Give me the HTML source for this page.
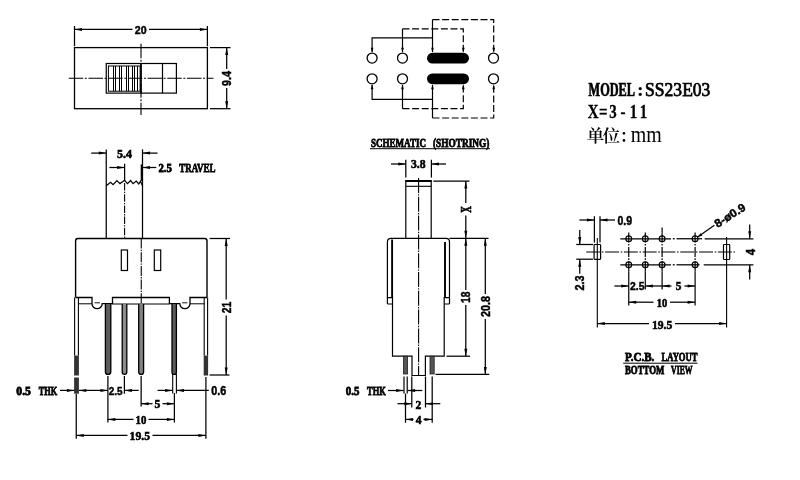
<!DOCTYPE html>
<html lang="zh">
<head>
<meta charset="utf-8">
<title>SS23E03 slide switch drawing</title>
<style>
html,body{margin:0;padding:0;background:#fff;}
body{width:800px;height:480px;overflow:hidden;}
svg{display:block;will-change:transform;}
svg text{fill:#000;}
</style>
</head>
<body>
<svg width="800" height="480" viewBox="0 0 800 480">
<rect x="0" y="0" width="800" height="480" fill="#fff" stroke="none"/>
<g stroke="#000" fill="none">
<!-- top view -->
<rect x="74.50" y="47.60" width="132.90" height="61.10" stroke-width="1.3" fill="none" rx="0"/>
<line x1="74.50" y1="26.00" x2="74.50" y2="46.20" stroke-width="1.25"/>
<line x1="207.40" y1="26.00" x2="207.40" y2="46.20" stroke-width="1.25"/>
<line x1="74.50" y1="29.40" x2="132.50" y2="29.40" stroke-width="1.25"/>
<line x1="149.00" y1="29.40" x2="207.40" y2="29.40" stroke-width="1.25"/>
<polygon points="74.50,29.40 82.00,27.90 82.00,30.90" fill="#000" stroke="none"/>
<polygon points="207.40,29.40 199.90,27.90 199.90,30.90" fill="#000" stroke="none"/>
<text x="140.70" y="33.85" font-family='"Liberation Sans", sans-serif' font-size="11.6" font-weight="bold" text-anchor="middle" stroke="#000" stroke-width="0.45" textLength="11.80" lengthAdjust="spacingAndGlyphs">20</text>
<line x1="141.00" y1="43.75" x2="141.00" y2="115.00" stroke-width="1.1" stroke-dasharray="14.5 1.6 2 1.6"/>
<line x1="68.75" y1="78.30" x2="213.50" y2="78.30" stroke-width="1.1" stroke-dasharray="14.5 1.6 2 1.6"/>
<rect x="106.25" y="63.50" width="70.15" height="29.60" stroke-width="1.2" fill="none" rx="0"/>
<line x1="162.50" y1="63.50" x2="162.50" y2="93.10" stroke-width="1.2"/>
<line x1="141.00" y1="63.50" x2="141.00" y2="93.10" stroke-width="1.6"/>
<rect x="108.40" y="66.00" width="31.70" height="25.20" stroke-width="1.0" fill="none" rx="0"/>
<line x1="113.50" y1="66.00" x2="113.50" y2="91.20" stroke-width="1.0"/>
<line x1="115.50" y1="66.00" x2="115.50" y2="91.20" stroke-width="1.0"/>
<line x1="119.50" y1="66.00" x2="119.50" y2="91.20" stroke-width="1.0"/>
<line x1="121.50" y1="66.00" x2="121.50" y2="91.20" stroke-width="1.0"/>
<line x1="126.50" y1="66.00" x2="126.50" y2="91.20" stroke-width="1.0"/>
<line x1="128.50" y1="66.00" x2="128.50" y2="91.20" stroke-width="1.0"/>
<line x1="132.50" y1="66.00" x2="132.50" y2="91.20" stroke-width="1.0"/>
<line x1="134.50" y1="66.00" x2="134.50" y2="91.20" stroke-width="1.0"/>
<line x1="137.50" y1="66.00" x2="137.50" y2="91.20" stroke-width="1.0"/>
<line x1="210.00" y1="47.60" x2="230.50" y2="47.60" stroke-width="1.25"/>
<line x1="210.00" y1="108.70" x2="230.50" y2="108.70" stroke-width="1.25"/>
<line x1="226.70" y1="47.60" x2="226.70" y2="69.00" stroke-width="1.25"/>
<line x1="226.70" y1="88.00" x2="226.70" y2="108.70" stroke-width="1.25"/>
<polygon points="226.70,47.60 225.20,55.10 228.20,55.10" fill="#000" stroke="none"/>
<polygon points="226.70,108.70 225.20,101.20 228.20,101.20" fill="#000" stroke="none"/>
<text transform="translate(226.80,78.50) rotate(-90)" x="0" y="4.44" font-family='"Liberation Sans", sans-serif' font-size="12.4" font-weight="bold" text-anchor="middle" stroke="#000" stroke-width="0.45" textLength="15.00" lengthAdjust="spacingAndGlyphs">9.4</text>
<!-- front view -->
<line x1="106.25" y1="149.40" x2="106.25" y2="238.40" stroke-width="1.25"/>
<line x1="142.50" y1="149.40" x2="142.50" y2="238.40" stroke-width="1.25"/>
<line x1="141.60" y1="164.40" x2="141.60" y2="181.00" stroke-width="1.8"/>
<line x1="124.60" y1="163.75" x2="124.60" y2="181.00" stroke-width="1.25"/>
<line x1="124.60" y1="183.00" x2="124.60" y2="238.40" stroke-width="1.1" stroke-dasharray="7.5 1.2 1.3 1.2"/>
<line x1="91.25" y1="153.10" x2="106.25" y2="153.10" stroke-width="1.25"/>
<polygon points="106.25,153.10 98.75,151.60 98.75,154.60" fill="#000" stroke="none"/>
<line x1="157.50" y1="153.10" x2="142.50" y2="153.10" stroke-width="1.25"/>
<polygon points="142.50,153.10 150.00,151.60 150.00,154.60" fill="#000" stroke="none"/>
<text x="124.40" y="158.00" font-family='"Liberation Serif", serif' font-size="13" font-weight="bold" text-anchor="middle" stroke="#000" stroke-width="0.6" textLength="15.00" lengthAdjust="spacingAndGlyphs">5.4</text>
<line x1="109.40" y1="167.50" x2="124.60" y2="167.50" stroke-width="1.25"/>
<polygon points="124.60,167.50 117.10,166.00 117.10,169.00" fill="#000" stroke="none"/>
<line x1="156.25" y1="167.50" x2="142.50" y2="167.50" stroke-width="1.25"/>
<polygon points="142.50,167.50 150.00,166.00 150.00,169.00" fill="#000" stroke="none"/>
<text y="172.04" font-family='"Liberation Serif", serif' font-size="12.8" font-weight="bold" stroke="#000" stroke-width="0.8"><tspan x="158.40" textLength="13.50" lengthAdjust="spacingAndGlyphs">2.5</tspan> <tspan x="179.20" textLength="36.20" lengthAdjust="spacingAndGlyphs">TRAVEL</tspan></text>
<path d="M106.25,185.80 L110.60,182.20 L113.10,184.60 L116.90,180.50 L120.00,183.60 L124.60,180.30 L127.50,183.60 L130.60,180.50 L133.10,183.60 L136.25,181.00 L138.75,184.00 L140.40,181.20 L142.50,185.80" stroke-width="1.2" fill="none"/>
<path d="M75.6,297.5 L75.6,241 Q75.6,238.5 78,238.5 L204.6,238.5 Q207,238.5 207,241 L207,297.5" stroke-width="1.4" fill="none"/>
<rect x="121.30" y="250.00" width="6.20" height="20.50" stroke-width="1.2" fill="none" rx="0"/>
<rect x="154.30" y="250.00" width="6.40" height="20.50" stroke-width="1.2" fill="none" rx="0"/>
<line x1="141.25" y1="238.50" x2="141.25" y2="374.00" stroke-width="1.1" stroke-dasharray="10 1.2 1.3 1.2"/>
<path d="M75.6,297.5 L92,297.5 L92,303.6 A5.1,5.1 0 0 0 102.2,303.6 L112.5,303.6 L112.5,297.5 L169.4,297.5 L169.4,303.6 L179.8,303.6 A5.1,5.1 0 0 0 190,303.6 L190,297.5 L207,297.5" stroke-width="1.3" fill="none"/>
<line x1="78.50" y1="303.80" x2="92.00" y2="303.80" stroke-width="1.0"/>
<line x1="112.50" y1="304.00" x2="169.40" y2="304.00" stroke-width="1.0"/>
<line x1="190.00" y1="303.80" x2="204.40" y2="303.80" stroke-width="1.0"/>
<line x1="94.50" y1="302.80" x2="100.00" y2="302.80" stroke-width="0.9"/>
<line x1="182.00" y1="302.80" x2="187.50" y2="302.80" stroke-width="0.9"/>
<line x1="74.60" y1="297.50" x2="74.60" y2="355.50" stroke-width="1.1"/>
<line x1="78.40" y1="297.50" x2="78.40" y2="355.50" stroke-width="1.1"/>
<rect x="74.10" y="355.5" width="4.80" height="20" fill="#333" stroke="none"/>
<line x1="204.20" y1="297.50" x2="204.20" y2="355.50" stroke-width="1.1"/>
<line x1="207.60" y1="297.50" x2="207.60" y2="355.50" stroke-width="1.1"/>
<rect x="203.70" y="355.5" width="4.40" height="20" fill="#333" stroke="none"/>
<rect x="74.1" y="377.5" width="4.8" height="16.2" fill="#333" stroke="none"/>
<path d="M105.40,304 L105.40,371.70 A2.70,2.70 0 0 0 110.80,371.70 L110.80,304" stroke-width="1.3" fill="#5c5c5c"/>
<path d="M122.20,304 L122.20,372.10 A2.30,2.30 0 0 0 126.80,372.10 L126.80,304" stroke-width="1.3" fill="#8c8c8c"/>
<path d="M138.70,304 L138.70,371.95 A2.45,2.45 0 0 0 143.60,371.95 L143.60,304" stroke-width="1.3" fill="#808080"/>
<path d="M172.00,304 L172.00,372.20 A2.20,2.20 0 0 0 176.40,372.20 L176.40,304" stroke-width="1.3" fill="#5c5c5c"/>
<line x1="172.70" y1="374.00" x2="172.70" y2="393.60" stroke-width="1.1"/>
<line x1="176.40" y1="374.00" x2="176.40" y2="393.60" stroke-width="1.1"/>
<line x1="76.25" y1="394.00" x2="76.25" y2="438.75" stroke-width="1.25"/>
<line x1="107.90" y1="376.00" x2="107.90" y2="422.50" stroke-width="1.25"/>
<line x1="124.40" y1="376.00" x2="124.40" y2="393.75" stroke-width="1.25"/>
<line x1="141.15" y1="376.00" x2="141.15" y2="406.50" stroke-width="1.25"/>
<line x1="174.40" y1="393.00" x2="174.40" y2="422.50" stroke-width="1.25"/>
<line x1="205.90" y1="377.00" x2="205.90" y2="438.75" stroke-width="1.25"/>
<line x1="209.60" y1="238.50" x2="230.00" y2="238.50" stroke-width="1.25"/>
<line x1="209.60" y1="375.00" x2="229.50" y2="375.00" stroke-width="1.25"/>
<line x1="226.20" y1="238.50" x2="226.20" y2="299.50" stroke-width="1.25"/>
<line x1="226.20" y1="315.50" x2="226.20" y2="375.00" stroke-width="1.25"/>
<polygon points="226.20,238.50 224.70,246.00 227.70,246.00" fill="#000" stroke="none"/>
<polygon points="226.20,375.00 224.70,367.50 227.70,367.50" fill="#000" stroke="none"/>
<text transform="translate(226.30,307.50) rotate(-90)" x="0" y="4.44" font-family='"Liberation Sans", sans-serif' font-size="12.4" font-weight="bold" text-anchor="middle" stroke="#000" stroke-width="0.45" textLength="11.60" lengthAdjust="spacingAndGlyphs">21</text>
<line x1="60.00" y1="390.40" x2="74.40" y2="390.40" stroke-width="1.25"/>
<polygon points="74.40,390.40 66.90,388.90 66.90,391.90" fill="#000" stroke="none"/>
<line x1="78.80" y1="390.40" x2="107.90" y2="390.40" stroke-width="1.25"/>
<polygon points="78.80,390.40 86.30,388.90 86.30,391.90" fill="#000" stroke="none"/>
<polygon points="107.90,390.40 100.40,388.90 100.40,391.90" fill="#000" stroke="none"/>
<text y="394.50" font-family='"Liberation Serif", serif' font-size="12.4" font-weight="bold" stroke="#000" stroke-width="0.8"><tspan x="16.30" textLength="14.60" lengthAdjust="spacingAndGlyphs">0.5</tspan> <tspan x="38.70" textLength="18.40" lengthAdjust="spacingAndGlyphs">THK</tspan></text>
<text x="115.70" y="394.55" font-family='"Liberation Sans", sans-serif' font-size="11.6" font-weight="bold" text-anchor="middle" stroke="#000" stroke-width="0.45" textLength="13.80" lengthAdjust="spacingAndGlyphs">2.5</text>
<line x1="124.40" y1="390.40" x2="138.70" y2="390.40" stroke-width="1.25"/>
<polygon points="124.40,390.40 131.90,388.90 131.90,391.90" fill="#000" stroke="none"/>
<line x1="157.60" y1="390.40" x2="172.60" y2="390.40" stroke-width="1.25"/>
<polygon points="172.60,390.40 165.10,388.90 165.10,391.90" fill="#000" stroke="none"/>
<line x1="176.50" y1="390.40" x2="208.80" y2="390.40" stroke-width="1.25"/>
<polygon points="176.50,390.40 184.00,388.90 184.00,391.90" fill="#000" stroke="none"/>
<text x="218.70" y="394.76" font-family='"Liberation Sans", sans-serif' font-size="11.9" font-weight="bold" text-anchor="middle" stroke="#000" stroke-width="0.45" textLength="15.00" lengthAdjust="spacingAndGlyphs">0.6</text>
<line x1="141.15" y1="403.70" x2="152.50" y2="403.70" stroke-width="1.25"/>
<line x1="162.50" y1="403.70" x2="174.40" y2="403.70" stroke-width="1.25"/>
<polygon points="141.15,403.70 148.65,402.20 148.65,405.20" fill="#000" stroke="none"/>
<polygon points="174.40,403.70 166.90,402.20 166.90,405.20" fill="#000" stroke="none"/>
<text x="157.50" y="408.10" font-family='"Liberation Serif", serif' font-size="13" font-weight="bold" text-anchor="middle" stroke="#000" stroke-width="0.6" textLength="5.80" lengthAdjust="spacingAndGlyphs">5</text>
<line x1="107.90" y1="419.40" x2="133.50" y2="419.40" stroke-width="1.25"/>
<line x1="148.50" y1="419.40" x2="174.40" y2="419.40" stroke-width="1.25"/>
<polygon points="107.90,419.40 115.40,417.90 115.40,420.90" fill="#000" stroke="none"/>
<polygon points="174.40,419.40 166.90,417.90 166.90,420.90" fill="#000" stroke="none"/>
<text x="141.00" y="423.60" font-family='"Liberation Serif", serif' font-size="13" font-weight="bold" text-anchor="middle" stroke="#000" stroke-width="0.6" textLength="10.80" lengthAdjust="spacingAndGlyphs">10</text>
<line x1="76.25" y1="435.40" x2="127.50" y2="435.40" stroke-width="1.25"/>
<line x1="152.50" y1="435.40" x2="205.90" y2="435.40" stroke-width="1.25"/>
<polygon points="76.25,435.40 83.75,433.90 83.75,436.90" fill="#000" stroke="none"/>
<polygon points="205.90,435.40 198.40,433.90 198.40,436.90" fill="#000" stroke="none"/>
<text x="139.80" y="439.90" font-family='"Liberation Serif", serif' font-size="13" font-weight="bold" text-anchor="middle" stroke="#000" stroke-width="0.6" textLength="20.40" lengthAdjust="spacingAndGlyphs">19.5</text>
<!-- schematic -->
<circle cx="372.1" cy="58.1" r="5" stroke-width="1.3" fill="none"/>
<circle cx="372.1" cy="78.8" r="5" stroke-width="1.3" fill="none"/>
<circle cx="402.5" cy="58.1" r="5" stroke-width="1.3" fill="none"/>
<circle cx="402.5" cy="78.8" r="5" stroke-width="1.3" fill="none"/>
<circle cx="493.5" cy="58.1" r="5" stroke-width="1.3" fill="none"/>
<circle cx="493.5" cy="78.8" r="5" stroke-width="1.3" fill="none"/>
<rect x="427" y="52.8" width="42" height="10.8" rx="5.4" fill="#000" stroke="none"/>
<rect x="427" y="73.4" width="42" height="10.8" rx="5.4" fill="#000" stroke="none"/>
<path d="M372.1,52 L372.1,37.8 L432.5,37.8 L432.5,52" stroke-width="1.2" fill="none"/>
<path d="M402.5,52 L402.5,28.8" stroke-width="1.2" fill="none"/>
<path d="M402.5,28.8 L463.3,28.8 L463.3,52" stroke-width="1.2" fill="none" stroke-dasharray="7 2.6"/>
<path d="M432.5,37.8 L432.5,19.6" stroke-width="1.2" fill="none"/>
<path d="M432.5,19.6 L493.7,19.6 L493.7,52" stroke-width="1.2" fill="none" stroke-dasharray="7 2.6"/>
<polygon points="372.10,52.60 370.75,47.80 373.45,47.80" fill="#000" stroke="none"/>
<polygon points="402.50,52.60 401.15,47.80 403.85,47.80" fill="#000" stroke="none"/>
<polygon points="432.50,52.60 431.15,47.80 433.85,47.80" fill="#000" stroke="none"/>
<polygon points="463.30,52.60 461.95,47.80 464.65,47.80" fill="#000" stroke="none"/>
<polygon points="493.70,52.60 492.35,47.80 495.05,47.80" fill="#000" stroke="none"/>
<path d="M372.1,85 L372.1,99.3 L432.5,99.3 L432.5,85" stroke-width="1.2" fill="none"/>
<path d="M402.5,85 L402.5,108.6" stroke-width="1.2" fill="none"/>
<path d="M402.5,108.6 L463.3,108.6 L463.3,85" stroke-width="1.2" fill="none" stroke-dasharray="7 2.6"/>
<path d="M432.5,99.3 L432.5,118" stroke-width="1.2" fill="none"/>
<path d="M432.5,118 L493.7,118 L493.7,85" stroke-width="1.2" fill="none" stroke-dasharray="7 2.6"/>
<polygon points="372.10,84.40 370.75,89.20 373.45,89.20" fill="#000" stroke="none"/>
<polygon points="402.50,84.40 401.15,89.20 403.85,89.20" fill="#000" stroke="none"/>
<polygon points="432.50,84.40 431.15,89.20 433.85,89.20" fill="#000" stroke="none"/>
<polygon points="463.30,84.40 461.95,89.20 464.65,89.20" fill="#000" stroke="none"/>
<polygon points="493.70,84.40 492.35,89.20 495.05,89.20" fill="#000" stroke="none"/>
<text y="146.70" font-family='"Liberation Serif", serif' font-size="12.4" font-weight="bold" stroke="#000" stroke-width="0.8"><tspan x="371.00" textLength="55.00" lengthAdjust="spacingAndGlyphs">SCHEMATIC</tspan> <tspan x="433.00" textLength="56.40" lengthAdjust="spacingAndGlyphs">(SHOTRING)</tspan></text>
<line x1="370.00" y1="148.70" x2="490.00" y2="148.70" stroke-width="1.0"/>
<!-- side view -->
<line x1="405.80" y1="159.75" x2="405.80" y2="177.50" stroke-width="1.25"/>
<line x1="431.40" y1="159.75" x2="431.40" y2="177.50" stroke-width="1.25"/>
<line x1="391.00" y1="164.00" x2="405.80" y2="164.00" stroke-width="1.25"/>
<polygon points="405.80,164.00 398.30,162.50 398.30,165.50" fill="#000" stroke="none"/>
<line x1="446.00" y1="164.00" x2="431.40" y2="164.00" stroke-width="1.25"/>
<polygon points="431.40,164.00 438.90,162.50 438.90,165.50" fill="#000" stroke="none"/>
<text x="418.30" y="168.40" font-family='"Liberation Serif", serif' font-size="13" font-weight="bold" text-anchor="middle" stroke="#000" stroke-width="0.6" textLength="14.60" lengthAdjust="spacingAndGlyphs">3.8</text>
<line x1="405.80" y1="181.00" x2="431.40" y2="181.00" stroke-width="2.0"/>
<line x1="405.80" y1="186.30" x2="431.40" y2="186.30" stroke-width="1.1"/>
<line x1="405.80" y1="180.00" x2="405.80" y2="238.30" stroke-width="1.2"/>
<line x1="431.20" y1="180.00" x2="431.20" y2="238.30" stroke-width="1.2"/>
<line x1="418.60" y1="178.00" x2="418.60" y2="375.00" stroke-width="1.1" stroke-dasharray="15 1.2 1.4 1.2"/>
<path d="M387.4,304 L387.4,242 Q387.4,238.3 391,238.3 L446,238.3 Q449.5,238.3 449.5,242 L449.5,304" stroke-width="1.2" fill="none"/>
<line x1="392.10" y1="239.50" x2="392.10" y2="297.60" stroke-width="1.9"/>
<line x1="445.00" y1="242.00" x2="445.00" y2="297.60" stroke-width="1.9"/>
<path d="M387.4,297.6 L392.6,297.6 M387.4,304 L392.6,304" stroke-width="1.1" fill="none"/>
<path d="M444.2,297.6 L449.5,297.6 M444.2,304 L449.5,304" stroke-width="1.1" fill="none"/>
<path d="M392.5,297 L392.5,356.2 L412,356.2 L412,375.5 L425.4,375.5 L425.4,356.2 L444.2,356.2 L444.2,297" stroke-width="1.2" fill="none"/>
<rect x="403.4" y="356.2" width="4.2" height="17.8" fill="#555" stroke="#222" stroke-width="0.8"/>
<rect x="430" y="356.2" width="4.2" height="17.8" fill="#555" stroke="#222" stroke-width="0.8"/>
<line x1="433.30" y1="181.00" x2="469.50" y2="181.00" stroke-width="1.25"/>
<line x1="465.80" y1="181.00" x2="465.80" y2="203.00" stroke-width="1.25"/>
<line x1="465.80" y1="215.50" x2="465.80" y2="238.30" stroke-width="1.25"/>
<polygon points="465.80,181.00 464.30,188.50 467.30,188.50" fill="#000" stroke="none"/>
<polygon points="465.80,238.30 464.30,230.80 467.30,230.80" fill="#000" stroke="none"/>
<text transform="translate(466.00,209.40) rotate(-90)" x="0" y="4.50" font-family='"Liberation Serif", serif' font-size="13.6" font-weight="bold" text-anchor="middle" stroke="#000" stroke-width="0.6" textLength="6.60" lengthAdjust="spacingAndGlyphs">X</text>
<line x1="449.50" y1="238.30" x2="488.50" y2="238.30" stroke-width="1.25"/>
<line x1="446.50" y1="356.20" x2="470.00" y2="356.20" stroke-width="1.25"/>
<line x1="465.80" y1="238.30" x2="465.80" y2="290.00" stroke-width="1.25"/>
<line x1="465.80" y1="305.00" x2="465.80" y2="356.20" stroke-width="1.25"/>
<polygon points="465.80,238.30 464.30,245.80 467.30,245.80" fill="#000" stroke="none"/>
<polygon points="465.80,356.20 464.30,348.70 467.30,348.70" fill="#000" stroke="none"/>
<text transform="translate(466.00,297.20) rotate(-90)" x="0" y="4.47" font-family='"Liberation Sans", sans-serif' font-size="12.5" font-weight="bold" text-anchor="middle" stroke="#000" stroke-width="0.45" textLength="11.40" lengthAdjust="spacingAndGlyphs">18</text>
<line x1="435.50" y1="374.40" x2="489.30" y2="374.40" stroke-width="1.25"/>
<line x1="485.30" y1="238.30" x2="485.30" y2="294.00" stroke-width="1.25"/>
<line x1="485.30" y1="319.00" x2="485.30" y2="374.40" stroke-width="1.25"/>
<polygon points="485.30,238.30 483.80,245.80 486.80,245.80" fill="#000" stroke="none"/>
<polygon points="485.30,374.40 483.80,366.90 486.80,366.90" fill="#000" stroke="none"/>
<text transform="translate(485.20,306.60) rotate(-90)" x="0" y="4.47" font-family='"Liberation Sans", sans-serif' font-size="12.5" font-weight="bold" text-anchor="middle" stroke="#000" stroke-width="0.45" textLength="20.90" lengthAdjust="spacingAndGlyphs">20.8</text>
<line x1="404.00" y1="376.50" x2="404.00" y2="393.50" stroke-width="1.2"/>
<line x1="407.20" y1="376.50" x2="407.20" y2="393.50" stroke-width="1.2"/>
<line x1="405.50" y1="393.50" x2="405.50" y2="422.80" stroke-width="1.25"/>
<line x1="411.80" y1="376.50" x2="411.80" y2="407.50" stroke-width="1.25"/>
<line x1="425.50" y1="376.50" x2="425.50" y2="407.50" stroke-width="1.25"/>
<line x1="432.20" y1="376.50" x2="432.20" y2="422.80" stroke-width="1.25"/>
<line x1="388.00" y1="390.50" x2="403.60" y2="390.50" stroke-width="1.25"/>
<polygon points="403.60,390.50 396.10,389.00 396.10,392.00" fill="#000" stroke="none"/>
<line x1="407.60" y1="390.50" x2="422.30" y2="390.50" stroke-width="1.25"/>
<polygon points="407.60,390.50 415.10,389.00 415.10,392.00" fill="#000" stroke="none"/>
<text y="394.60" font-family='"Liberation Serif", serif' font-size="12.4" font-weight="bold" stroke="#000" stroke-width="0.8"><tspan x="345.80" textLength="13.60" lengthAdjust="spacingAndGlyphs">0.5</tspan> <tspan x="367.10" textLength="18.70" lengthAdjust="spacingAndGlyphs">THK</tspan></text>
<line x1="397.50" y1="403.70" x2="411.80" y2="403.70" stroke-width="1.25"/>
<polygon points="411.80,403.70 404.30,402.20 404.30,405.20" fill="#000" stroke="none"/>
<line x1="425.50" y1="403.70" x2="440.30" y2="403.70" stroke-width="1.25"/>
<polygon points="425.50,403.70 433.00,402.20 433.00,405.20" fill="#000" stroke="none"/>
<text x="418.50" y="408.90" font-family='"Liberation Serif", serif' font-size="13" font-weight="bold" text-anchor="middle" stroke="#000" stroke-width="0.6" textLength="5.80" lengthAdjust="spacingAndGlyphs">2</text>
<line x1="405.50" y1="419.40" x2="413.50" y2="419.40" stroke-width="1.25"/>
<line x1="423.50" y1="419.40" x2="432.20" y2="419.40" stroke-width="1.25"/>
<polygon points="405.50,419.40 413.00,417.90 413.00,420.90" fill="#000" stroke="none"/>
<polygon points="432.20,419.40 424.70,417.90 424.70,420.90" fill="#000" stroke="none"/>
<text x="418.60" y="423.90" font-family='"Liberation Serif", serif' font-size="13" font-weight="bold" text-anchor="middle" stroke="#000" stroke-width="0.6" textLength="5.80" lengthAdjust="spacingAndGlyphs">4</text>
<!-- info text -->
<text y="96.10" font-family='"Liberation Serif", serif' font-size="18.3" font-weight="bold" stroke="#000" stroke-width="0.8"><tspan x="588.60" textLength="46.40" lengthAdjust="spacingAndGlyphs" stroke-width="0.7">MODEL</tspan><tspan x="637.30" stroke-width="0.2">:</tspan><tspan x="645.10" textLength="65.30" lengthAdjust="spacingAndGlyphs" font-weight="normal" stroke-width="0.75">SS23E03</tspan></text>
<text transform="translate(588.4,0) scale(0.78,1)" x="6.15 19.10 31.41 44.23 57.69 70.51" y="117.9" font-family='"Liberation Serif", serif' font-size="19.2" font-weight="bold" text-anchor="middle" stroke="#000" stroke-width="0.3">X=3-11</text>
<text x="586.8 602.4 619.4" y="141.9" font-family='"Liberation Serif", "Noto Serif CJK SC", serif' font-size="17.6" font-weight="600" stroke="none">单位：<tspan x="630.7" y="142.4" font-size="23" font-weight="400" textLength="31" lengthAdjust="spacingAndGlyphs">mm</tspan></text>
<!-- pcb layout -->
<line x1="594.40" y1="216.25" x2="594.40" y2="242.50" stroke-width="1.25"/>
<line x1="600.00" y1="216.25" x2="600.00" y2="242.50" stroke-width="1.25"/>
<line x1="579.40" y1="220.00" x2="594.40" y2="220.00" stroke-width="1.25"/>
<polygon points="594.40,220.00 586.90,218.50 586.90,221.50" fill="#000" stroke="none"/>
<line x1="615.00" y1="220.00" x2="600.00" y2="220.00" stroke-width="1.25"/>
<polygon points="600.00,220.00 607.50,218.50 607.50,221.50" fill="#000" stroke="none"/>
<text x="624.80" y="224.77" font-family='"Liberation Sans", sans-serif' font-size="12.2" font-weight="bold" text-anchor="middle" stroke="#000" stroke-width="0.45" textLength="14.60" lengthAdjust="spacingAndGlyphs">0.9</text>
<rect x="594.10" y="244.50" width="6.50" height="14.80" stroke-width="1.2" fill="none" rx="0.8"/>
<rect x="723.50" y="244.50" width="6.20" height="15.00" stroke-width="1.2" fill="none" rx="0.8"/>
<line x1="586.25" y1="252.00" x2="736.25" y2="252.00" stroke-width="1.2" stroke-dasharray="14 1.6 1.6 1.6"/>
<line x1="597.30" y1="238.00" x2="597.30" y2="327.50" stroke-width="1.1"/>
<line x1="726.60" y1="237.00" x2="726.60" y2="327.50" stroke-width="1.1"/>
<line x1="620.30" y1="238.75" x2="671.00" y2="238.75" stroke-width="1.25"/>
<line x1="672.80" y1="238.75" x2="674.80" y2="238.75" stroke-width="1.25"/>
<line x1="676.50" y1="238.75" x2="702.00" y2="238.75" stroke-width="1.25"/>
<line x1="704.70" y1="238.75" x2="753.40" y2="238.75" stroke-width="1.25"/>
<line x1="620.30" y1="264.80" x2="671.00" y2="264.80" stroke-width="1.25"/>
<line x1="672.80" y1="264.80" x2="674.80" y2="264.80" stroke-width="1.25"/>
<line x1="676.50" y1="264.80" x2="699.50" y2="264.80" stroke-width="1.25"/>
<line x1="703.70" y1="264.80" x2="753.40" y2="264.80" stroke-width="1.25"/>
<circle cx="628.75" cy="238.75" r="2.9" stroke-width="1.2" fill="none"/>
<circle cx="628.75" cy="264.8" r="2.9" stroke-width="1.2" fill="none"/>
<circle cx="645.3" cy="238.75" r="2.9" stroke-width="1.2" fill="none"/>
<circle cx="645.3" cy="264.8" r="2.9" stroke-width="1.2" fill="none"/>
<circle cx="662.1" cy="238.75" r="2.9" stroke-width="1.2" fill="none"/>
<circle cx="662.1" cy="264.8" r="2.9" stroke-width="1.2" fill="none"/>
<circle cx="695.1" cy="238.75" r="2.9" stroke-width="1.2" fill="none"/>
<circle cx="695.1" cy="264.8" r="2.9" stroke-width="1.2" fill="none"/>
<line x1="628.75" y1="232.50" x2="628.75" y2="271.30" stroke-width="1.2" stroke-dasharray="10 1.4 1.6 1.4"/>
<line x1="628.75" y1="271.30" x2="628.75" y2="305.60" stroke-width="1.2"/>
<line x1="645.30" y1="232.50" x2="645.30" y2="271.30" stroke-width="1.2" stroke-dasharray="10 1.4 1.6 1.4"/>
<line x1="645.30" y1="271.30" x2="645.30" y2="289.50" stroke-width="1.2"/>
<line x1="662.10" y1="227.50" x2="662.10" y2="232.50" stroke-width="1.2"/>
<line x1="662.10" y1="232.50" x2="662.10" y2="271.30" stroke-width="1.2" stroke-dasharray="10 1.4 1.6 1.4"/>
<line x1="662.10" y1="271.30" x2="662.10" y2="289.50" stroke-width="1.2"/>
<line x1="695.10" y1="232.50" x2="695.10" y2="271.30" stroke-width="1.2" stroke-dasharray="10 1.4 1.6 1.4"/>
<line x1="695.10" y1="271.30" x2="695.10" y2="305.60" stroke-width="1.2"/>
<line x1="576.25" y1="244.50" x2="593.00" y2="244.50" stroke-width="1.25"/>
<line x1="576.25" y1="259.20" x2="593.00" y2="259.20" stroke-width="1.25"/>
<line x1="579.75" y1="230.00" x2="579.75" y2="244.50" stroke-width="1.25"/>
<polygon points="579.75,244.50 578.25,237.00 581.25,237.00" fill="#000" stroke="none"/>
<line x1="579.75" y1="259.20" x2="579.75" y2="273.75" stroke-width="1.25"/>
<polygon points="579.75,259.20 578.25,266.70 581.25,266.70" fill="#000" stroke="none"/>
<text transform="translate(579.80,283.10) rotate(-90)" x="0" y="4.44" font-family='"Liberation Sans", sans-serif' font-size="12.4" font-weight="bold" text-anchor="middle" stroke="#000" stroke-width="0.45" textLength="15.00" lengthAdjust="spacingAndGlyphs">2.3</text>
<line x1="749.70" y1="224.40" x2="749.70" y2="238.75" stroke-width="1.25"/>
<polygon points="749.70,238.75 748.20,231.25 751.20,231.25" fill="#000" stroke="none"/>
<line x1="749.70" y1="264.80" x2="749.70" y2="279.40" stroke-width="1.25"/>
<polygon points="749.70,264.80 748.20,272.30 751.20,272.30" fill="#000" stroke="none"/>
<text transform="translate(750.10,252.00) rotate(-90)" x="0" y="4.44" font-family='"Liberation Sans", sans-serif' font-size="12.4" font-weight="bold" text-anchor="middle" stroke="#000" stroke-width="0.45" textLength="6.30" lengthAdjust="spacingAndGlyphs">4</text>
<line x1="698.00" y1="236.80" x2="714.40" y2="225.20" stroke-width="1.2"/>
<polygon points="697.3,237.3 702.4,235.6 700.6,233.2" fill="#000" stroke="none"/>
<text transform="translate(729.80,215.20) rotate(-32.5)" x="0" y="4.08" font-family='"Liberation Sans", sans-serif' font-size="11.4" font-weight="bold" text-anchor="middle" stroke="#000" stroke-width="0.45" textLength="34.50" lengthAdjust="spacingAndGlyphs">8-ø0.9</text>
<line x1="614.40" y1="286.00" x2="628.75" y2="286.00" stroke-width="1.25"/>
<polygon points="628.75,286.00 621.25,284.50 621.25,287.50" fill="#000" stroke="none"/>
<text x="637.20" y="290.25" font-family='"Liberation Sans", sans-serif' font-size="11.6" font-weight="bold" text-anchor="middle" stroke="#000" stroke-width="0.45" textLength="14.40" lengthAdjust="spacingAndGlyphs">2.5</text>
<line x1="645.30" y1="286.00" x2="662.10" y2="286.00" stroke-width="1.25"/>
<polygon points="645.30,286.00 652.80,284.50 652.80,287.50" fill="#000" stroke="none"/>
<line x1="662.10" y1="286.00" x2="671.50" y2="286.00" stroke-width="1.25"/>
<polygon points="662.10,286.00 669.60,284.50 669.60,287.50" fill="#000" stroke="none"/>
<line x1="684.40" y1="286.00" x2="695.10" y2="286.00" stroke-width="1.25"/>
<polygon points="695.10,286.00 687.60,284.50 687.60,287.50" fill="#000" stroke="none"/>
<text x="678.60" y="290.40" font-family='"Liberation Serif", serif' font-size="13" font-weight="bold" text-anchor="middle" stroke="#000" stroke-width="0.6" textLength="5.60" lengthAdjust="spacingAndGlyphs">5</text>
<line x1="628.75" y1="302.20" x2="653.50" y2="302.20" stroke-width="1.25"/>
<line x1="670.00" y1="302.20" x2="695.10" y2="302.20" stroke-width="1.25"/>
<polygon points="628.75,302.20 636.25,300.70 636.25,303.70" fill="#000" stroke="none"/>
<polygon points="695.10,302.20 687.60,300.70 687.60,303.70" fill="#000" stroke="none"/>
<text x="661.90" y="306.50" font-family='"Liberation Serif", serif' font-size="13" font-weight="bold" text-anchor="middle" stroke="#000" stroke-width="0.6" textLength="10.40" lengthAdjust="spacingAndGlyphs">10</text>
<line x1="597.30" y1="323.60" x2="649.00" y2="323.60" stroke-width="1.25"/>
<line x1="675.00" y1="323.60" x2="726.60" y2="323.60" stroke-width="1.25"/>
<polygon points="597.30,323.60 604.80,322.10 604.80,325.10" fill="#000" stroke="none"/>
<polygon points="726.60,323.60 719.10,322.10 719.10,325.10" fill="#000" stroke="none"/>
<text x="662.10" y="328.50" font-family='"Liberation Serif", serif' font-size="13" font-weight="bold" text-anchor="middle" stroke="#000" stroke-width="0.6" textLength="20.30" lengthAdjust="spacingAndGlyphs">19.5</text>
<text y="361.30" font-family='"Liberation Serif", serif' font-size="12.4" font-weight="bold" stroke="#000" stroke-width="0.8"><tspan x="625.00" textLength="29.30" lengthAdjust="spacingAndGlyphs">P.C.B.</tspan> <tspan x="661.50" textLength="36.00" lengthAdjust="spacingAndGlyphs">LAYOUT</tspan></text>
<line x1="623.20" y1="363.20" x2="697.50" y2="363.20" stroke-width="1.0"/>
<text y="374.10" font-family='"Liberation Serif", serif' font-size="12.4" font-weight="bold" stroke="#000" stroke-width="0.8"><tspan x="625.00" textLength="39.40" lengthAdjust="spacingAndGlyphs">BOTTOM</tspan> <tspan x="671.10" textLength="21.40" lengthAdjust="spacingAndGlyphs">VIEW</tspan></text>
</g>
</svg>
</body>
</html>
